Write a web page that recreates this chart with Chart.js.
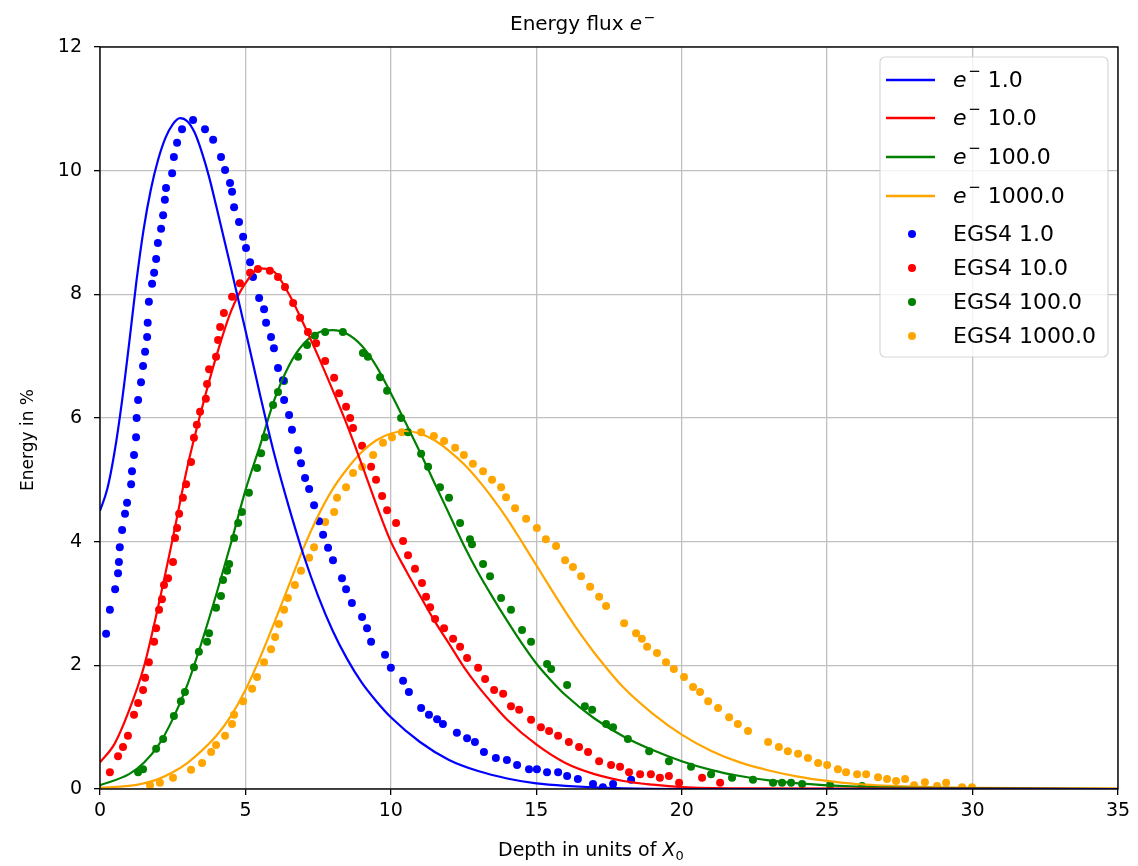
<!DOCTYPE html>
<html>
<head>
<meta charset="utf-8">
<script src="https://cdn.jsdelivr.net/npm/chart.js@4.4.1/dist/chart.umd.min.js"></script>
<style>
  html, body { margin: 0; padding: 0; background: #fff; }
  #wrap { width: 1138px; height: 866px; }
</style>
</head>
<body>
<div id="wrap"><canvas id="myCanvas" width="1138" height="866"></canvas></div>
<script>
// primary energies (GeV) and their colours
const energies = [1.0, 10.0, 100.0, 1000.0];
const colors = ['#0000ff', '#ff0000', '#008000', '#ffa500'];

// longitudinal profile curves, [depth in X0, energy in %]
const curve1 = [[0,4.50],[0.25,4.85],[0.5,5.45],[0.75,6.25],[1,7.2],[1.25,8.2],[1.5,9.05],[1.75,9.7],[2,10.18],[2.25,10.53],[2.5,10.75],[2.75,10.85],[3,10.8],[3.25,10.62],[3.5,10.3],[3.75,9.9],[4,9.42],[4.5,8.43],[5,7.42],[5.5,6.38],[6,5.4],[6.5,4.55],[7,3.78],[7.5,3.12],[8,2.56],[8.5,2.1],[9,1.72],[9.5,1.42],[10,1.16],[11,0.76],[12,0.47],[13,0.29],[14,0.17],[15,0.09],[16,0.05],[18,0.01],[20,0],[35,0]];
const curve10 = [[0,0.43],[0.5,0.73],[1,1.27],[1.5,1.96],[2,2.95],[2.5,4.05],[3,5.2],[3.5,6.15],[4,7],[4.5,7.72],[5,8.18],[5.5,8.42],[6,8.36],[6.5,8.0],[7,7.52],[7.5,7.0],[8,6.45],[8.5,5.88],[9,5.25],[9.5,4.6],[10,4],[10.5,3.55],[11,3.13],[11.5,2.72],[12,2.35],[12.5,1.98],[13,1.66],[13.5,1.38],[14,1.12],[15,0.72],[16,0.42],[17,0.24],[18,0.13],[19,0.07],[20,0.03],[22,0.01],[35,0]];
const curve100 = [[0,0.06],[1,0.24],[1.5,0.42],[2,0.7],[2.5,1.13],[3,1.68],[3.5,2.38],[4,3.15],[4.5,3.97],[5,4.83],[5.5,5.55],[6,6.3],[6.5,6.85],[7,7.2],[7.5,7.38],[8,7.42],[8.5,7.36],[9,7.17],[9.5,6.84],[10,6.4],[10.5,5.93],[11,5.45],[11.5,4.95],[12,4.45],[12.5,3.95],[13,3.5],[13.5,3.1],[14,2.72],[14.5,2.36],[15,2.03],[15.5,1.76],[16,1.52],[17,1.14],[18,0.85],[19,0.63],[20,0.45],[21,0.31],[22,0.21],[23,0.14],[24,0.09],[26,0.04],[28,0.02],[35,0]];
const curve1000 = [[0,0.02],[1,0.05],[1.5,0.09],[2,0.16],[2.5,0.27],[3,0.42],[3.5,0.62],[4,0.86],[4.5,1.18],[5,1.6],[5.5,2.12],[6,2.7],[6.5,3.3],[7,3.9],[7.5,4.42],[8,4.85],[8.5,5.18],[9,5.45],[9.5,5.64],[10,5.75],[10.5,5.79],[11,5.75],[11.5,5.64],[12,5.47],[12.5,5.26],[13,5],[13.5,4.7],[14,4.37],[14.5,4],[15,3.62],[15.5,3.24],[16,2.87],[16.5,2.52],[17,2.2],[18,1.64],[19,1.22],[20,0.88],[21,0.62],[22,0.43],[23,0.3],[24,0.2],[25,0.13],[26,0.08],[28,0.04],[30,0.02],[35,0.01]];

// EGS4 reference points
const egs1 = [[0.21,2.51],[0.34,2.90],[0.52,3.23],[0.62,3.49],[0.65,3.67],[0.68,3.91],[0.76,4.19],[0.86,4.45],[0.93,4.63],[1.07,4.93],[1.10,5.14],[1.17,5.40],[1.24,5.69],[1.26,6.00],[1.31,6.29],[1.41,6.58],[1.48,6.84],[1.55,7.07],[1.62,7.31],[1.64,7.54],[1.68,7.88],[1.79,8.17],[1.86,8.35],[1.93,8.57],[1.99,8.83],[2.10,9.06],[2.17,9.28],[2.23,9.53],[2.27,9.72],[2.48,9.96],[2.54,10.22],[2.65,10.45],[2.82,10.67],[3.20,10.82],[3.61,10.67],[3.89,10.50],[4.16,10.22],[4.30,10.01],[4.47,9.80],[4.54,9.66],[4.61,9.41],[4.78,9.17],[4.92,8.93],[5.02,8.75],[5.16,8.52],[5.26,8.28],[5.47,7.94],[5.64,7.76],[5.71,7.54],[5.88,7.31],[5.98,7.13],[6.12,6.81],[6.29,6.61],[6.33,6.29],[6.50,6.05],[6.60,5.81],[6.81,5.48],[6.91,5.27],[7.05,5.03],[7.19,4.85],[7.36,4.59],[7.53,4.33],[7.67,4.11],[7.84,3.90],[8.01,3.70],[8.32,3.41],[8.46,3.23],[8.66,3.01],[9.01,2.78],[9.18,2.60],[9.32,2.38],[9.80,2.17],[10.00,1.96],[10.42,1.75],[10.62,1.57],[11.04,1.31],[11.31,1.20],[11.59,1.13],[11.79,1.05],[12.27,0.91],[12.62,0.82],[12.89,0.76],[13.20,0.60],[13.61,0.50],[13.99,0.47],[14.34,0.39],[14.75,0.32],[15.02,0.32],[15.37,0.27],[15.75,0.27],[16.06,0.21],[16.43,0.16],[16.95,0.08],[17.29,0.03],[17.64,0.08],[18.26,0.15]];
const egs10 = [[0.34,0.27],[0.62,0.53],[0.79,0.68],[0.96,0.86],[1.17,1.20],[1.31,1.39],[1.48,1.60],[1.55,1.80],[1.68,2.05],[1.86,2.38],[1.93,2.60],[2.03,2.90],[2.13,3.07],[2.20,3.30],[2.34,3.41],[2.51,3.67],[2.58,4.06],[2.65,4.22],[2.72,4.45],[2.85,4.71],[2.96,4.93],[3.13,5.29],[3.23,5.68],[3.33,5.89],[3.44,6.10],[3.64,6.31],[3.68,6.55],[3.75,6.79],[3.99,6.99],[4.06,7.26],[4.13,7.47],[4.26,7.70],[4.54,7.96],[4.81,8.18],[5.16,8.35],[5.43,8.41],[5.84,8.38],[6.12,8.28],[6.36,8.12],[6.64,7.86],[6.88,7.62],[7.15,7.39],[7.43,7.21],[7.74,6.92],[8.05,6.65],[8.22,6.40],[8.46,6.18],[8.60,6.00],[8.70,5.84],[9.01,5.55],[9.32,5.21],[9.49,5.00],[9.70,4.74],[9.87,4.51],[10.18,4.30],[10.42,4.01],[10.59,3.78],[10.83,3.56],[11.07,3.33],[11.21,3.11],[11.35,2.94],[11.52,2.75],[11.83,2.60],[12.14,2.43],[12.38,2.30],[12.62,2.12],[13.00,1.96],[13.24,1.78],[13.55,1.60],[13.86,1.54],[14.13,1.34],[14.41,1.28],[14.82,1.12],[15.16,1.00],[15.44,0.94],[15.75,0.86],[16.12,0.76],[16.47,0.68],[16.78,0.60],[17.16,0.45],[17.57,0.39],[17.88,0.36],[18.19,0.27],[18.57,0.24],[18.94,0.24],[19.25,0.18],[19.56,0.21],[19.91,0.10],[20.70,0.18],[21.32,0.10]];
const egs100 = [[1.31,0.27],[1.48,0.32],[1.93,0.65],[2.17,0.81],[2.54,1.18],[2.78,1.42],[2.92,1.57],[3.23,1.97],[3.40,2.22],[3.68,2.38],[3.75,2.52],[3.99,2.93],[4.16,3.12],[4.23,3.38],[4.37,3.53],[4.44,3.64],[4.61,4.06],[4.75,4.30],[4.88,4.48],[5.12,4.79],[5.40,5.19],[5.54,5.43],[5.67,5.69],[5.95,6.21],[6.12,6.42],[6.33,6.60],[6.81,6.99],[7.12,7.18],[7.39,7.33],[7.74,7.39],[8.35,7.39],[9.04,7.05],[9.21,6.99],[9.63,6.66],[9.87,6.44],[10.35,6.00],[10.59,5.77],[11.04,5.42],[11.28,5.21],[11.69,4.88],[12.00,4.71],[12.38,4.30],[12.72,4.04],[12.79,3.96],[13.17,3.64],[13.41,3.44],[13.79,3.09],[14.13,2.90],[14.51,2.57],[14.82,2.38],[15.37,2.02],[15.51,1.94],[16.06,1.68],[16.67,1.34],[16.92,1.28],[17.40,1.05],[17.64,1.00],[18.15,0.81],[18.88,0.61],[19.56,0.45],[20.32,0.36],[21.01,0.24],[21.73,0.18],[22.45,0.15],[23.14,0.10],[23.45,0.10],[23.76,0.10],[24.14,0.08],[25.10,0.06],[26.20,0.05]];
const egs1000 = [[1.72,0.06],[2.06,0.10],[2.51,0.18],[3.13,0.31],[3.51,0.42],[3.82,0.60],[3.99,0.71],[4.30,0.86],[4.54,1.05],[4.61,1.20],[4.92,1.42],[5.23,1.62],[5.40,1.81],[5.64,2.05],[5.88,2.26],[6.02,2.46],[6.15,2.67],[6.33,2.90],[6.46,3.09],[6.70,3.30],[6.91,3.53],[7.19,3.74],[7.36,3.91],[7.74,4.32],[8.05,4.48],[8.15,4.71],[8.46,4.88],[8.70,5.11],[9.01,5.21],[9.39,5.40],[9.73,5.60],[10.04,5.69],[10.38,5.77],[11.04,5.77],[11.48,5.71],[11.83,5.63],[12.21,5.52],[12.51,5.40],[12.82,5.26],[13.17,5.14],[13.48,5.00],[13.79,4.88],[13.96,4.72],[14.27,4.54],[14.65,4.37],[15.02,4.22],[15.33,4.04],[15.68,3.93],[15.99,3.70],[16.26,3.59],[16.54,3.44],[16.85,3.27],[17.16,3.11],[17.40,2.96],[18.02,2.68],[18.43,2.52],[18.63,2.43],[18.81,2.30],[19.15,2.20],[19.46,2.05],[19.73,1.94],[20.08,1.81],[20.39,1.65],[20.63,1.57],[20.91,1.42],[21.25,1.31],[21.63,1.16],[21.93,1.05],[22.28,0.94],[22.97,0.76],[23.34,0.68],[23.65,0.61],[24.00,0.57],[24.34,0.50],[24.69,0.42],[25.00,0.39],[25.37,0.32],[25.65,0.27],[26.03,0.24],[26.34,0.24],[26.75,0.19],[27.06,0.16],[27.37,0.13],[27.68,0.16],[27.99,0.06],[28.36,0.11],[28.78,0.05],[29.09,0.10],[29.64,0.03],[29.98,0.03]];

const curves = [curve1, curve10, curve100, curve1000];
const egsPoints = [egs1, egs10, egs100, egs1000];

const FONT = '"DejaVu Sans", sans-serif';
const toXY = arr => arr.map(p => ({ x: p[0], y: p[1] }));

const datasets = [];
curves.forEach((c, i) => {
  datasets.push({
    type: 'line',
    label: 'e- ' + energies[i].toFixed(1),
    data: toXY(c),
    borderColor: colors[i],
    borderWidth: 2.2,
    pointRadius: 0,
    fill: false,
    cubicInterpolationMode: 'monotone',
    order: 1
  });
});
egsPoints.forEach((p, i) => {
  datasets.push({
    type: 'scatter',
    label: 'EGS4 ' + energies[i].toFixed(1),
    data: toXY(p),
    backgroundColor: colors[i],
    borderWidth: 0,
    pointRadius: 4,
    pointHoverRadius: 4,
    order: 2
  });
});

// draw "e" in italic with a superscript minus, returns the x after it
function drawElectron(ctx, x, y, size) {
  ctx.font = 'oblique ' + size + 'px ' + FONT;
  ctx.fillText('e', x, y);
  x += ctx.measureText('e').width + size * 0.08;
  const sup = Math.round(size * 0.7);
  ctx.font = sup + 'px ' + FONT;
  ctx.fillText('\u2212', x, y - size * 0.42);
  return x + ctx.measureText('\u2212').width;
}

const decorations = {
  id: 'decorations',
  afterDatasetsDraw(chart) {
    const { ctx, chartArea: a } = chart;
    ctx.save();
    // frame on top of the curves
    ctx.strokeStyle = '#000';
    ctx.lineWidth = 1.4;
    ctx.strokeRect(a.left, a.top, a.right - a.left, a.bottom - a.top);

    // legend box in the upper right corner
    const bw = 228, bh = 300;
    const bx = a.right - 10 - bw, by = a.top + 10;
    ctx.beginPath();
    ctx.roundRect(bx, by, bw, bh, 5);
    ctx.fillStyle = 'rgba(255,255,255,0.8)';
    ctx.fill();
    ctx.strokeStyle = 'rgba(204,204,204,0.8)';
    ctx.lineWidth = 1.2;
    ctx.stroke();

    const rows = [23, 61, 100, 139, 177, 211, 245, 279];
    const textX = bx + 73;
    ctx.textBaseline = 'middle';
    ctx.textAlign = 'left';
    energies.forEach((e, i) => {
      const cy = by + rows[i];
      ctx.strokeStyle = colors[i];
      ctx.lineWidth = 2.4;
      ctx.beginPath();
      ctx.moveTo(bx + 6, cy);
      ctx.lineTo(bx + 55, cy);
      ctx.stroke();
      ctx.fillStyle = '#000';
      const x = drawElectron(ctx, textX, cy + 1, 22);
      ctx.font = '22px ' + FONT;
      ctx.fillText(' ' + e.toFixed(1), x, cy + 1);
    });
    energies.forEach((e, i) => {
      const cy = by + rows[4 + i];
      ctx.fillStyle = colors[i];
      ctx.beginPath();
      ctx.arc(bx + 32, cy, 4, 0, Math.PI * 2);
      ctx.fill();
      ctx.fillStyle = '#000';
      ctx.font = '22px ' + FONT;
      ctx.fillText('EGS4 ' + e.toFixed(1), textX, cy + 1);
    });
    ctx.restore();
  },
  afterDraw(chart) {
    const { ctx } = chart;
    ctx.save();
    ctx.fillStyle = '#000';
    ctx.textBaseline = 'alphabetic';
    ctx.textAlign = 'left';

    // title
    ctx.font = '20px ' + FONT;
    const head = 'Energy flux ';
    let x = 510;
    ctx.fillText(head, x, 30);
    x += ctx.measureText(head).width;
    drawElectron(ctx, x, 30, 20);

    // x axis label
    ctx.font = '19px ' + FONT;
    const xl = 'Depth in units of ';
    x = 498;
    ctx.fillText(xl, x, 856);
    x += ctx.measureText(xl).width;
    ctx.font = 'oblique 19px ' + FONT;
    ctx.fillText('X', x, 856);
    x += ctx.measureText('X').width;
    ctx.font = '13px ' + FONT;
    ctx.fillText('0', x, 860);

    // y axis label
    ctx.translate(33, 440);
    ctx.rotate(-Math.PI / 2);
    ctx.textAlign = 'center';
    ctx.font = '17px ' + FONT;
    ctx.fillText('Energy in %', 0, 0);
    ctx.restore();
  }
};

new Chart(document.getElementById('myCanvas'), {
  type: 'scatter',
  data: { datasets: datasets },
  options: {
    responsive: false,
    animation: false,
    devicePixelRatio: 1,
    layout: { padding: { left: 0, top: 47, right: 20, bottom: 0 } },
    plugins: {
      legend: { display: false },
      title: { display: false },
      tooltip: { enabled: false }
    },
    scales: {
      x: {
        type: 'linear',
        min: 0,
        max: 35,
        afterFit: s => { s.height = 77; },
        ticks: { stepSize: 5, color: '#000', padding: 5, font: { family: FONT, size: 19 } },
        grid: { color: '#c0c0c0', lineWidth: 1.3, tickColor: '#000', tickLength: 6, tickWidth: 1.3 },
        border: { display: false }
      },
      y: {
        min: 0,
        max: 12,
        afterFit: s => { s.width = 100; },
        ticks: { stepSize: 2, color: '#000', padding: 12, font: { family: FONT, size: 19 } },
        grid: { color: '#c0c0c0', lineWidth: 1.3, tickColor: '#000', tickLength: 6, tickWidth: 1.3 },
        border: { display: false }
      }
    }
  },
  plugins: [decorations]
});
</script>
</body>
</html>
